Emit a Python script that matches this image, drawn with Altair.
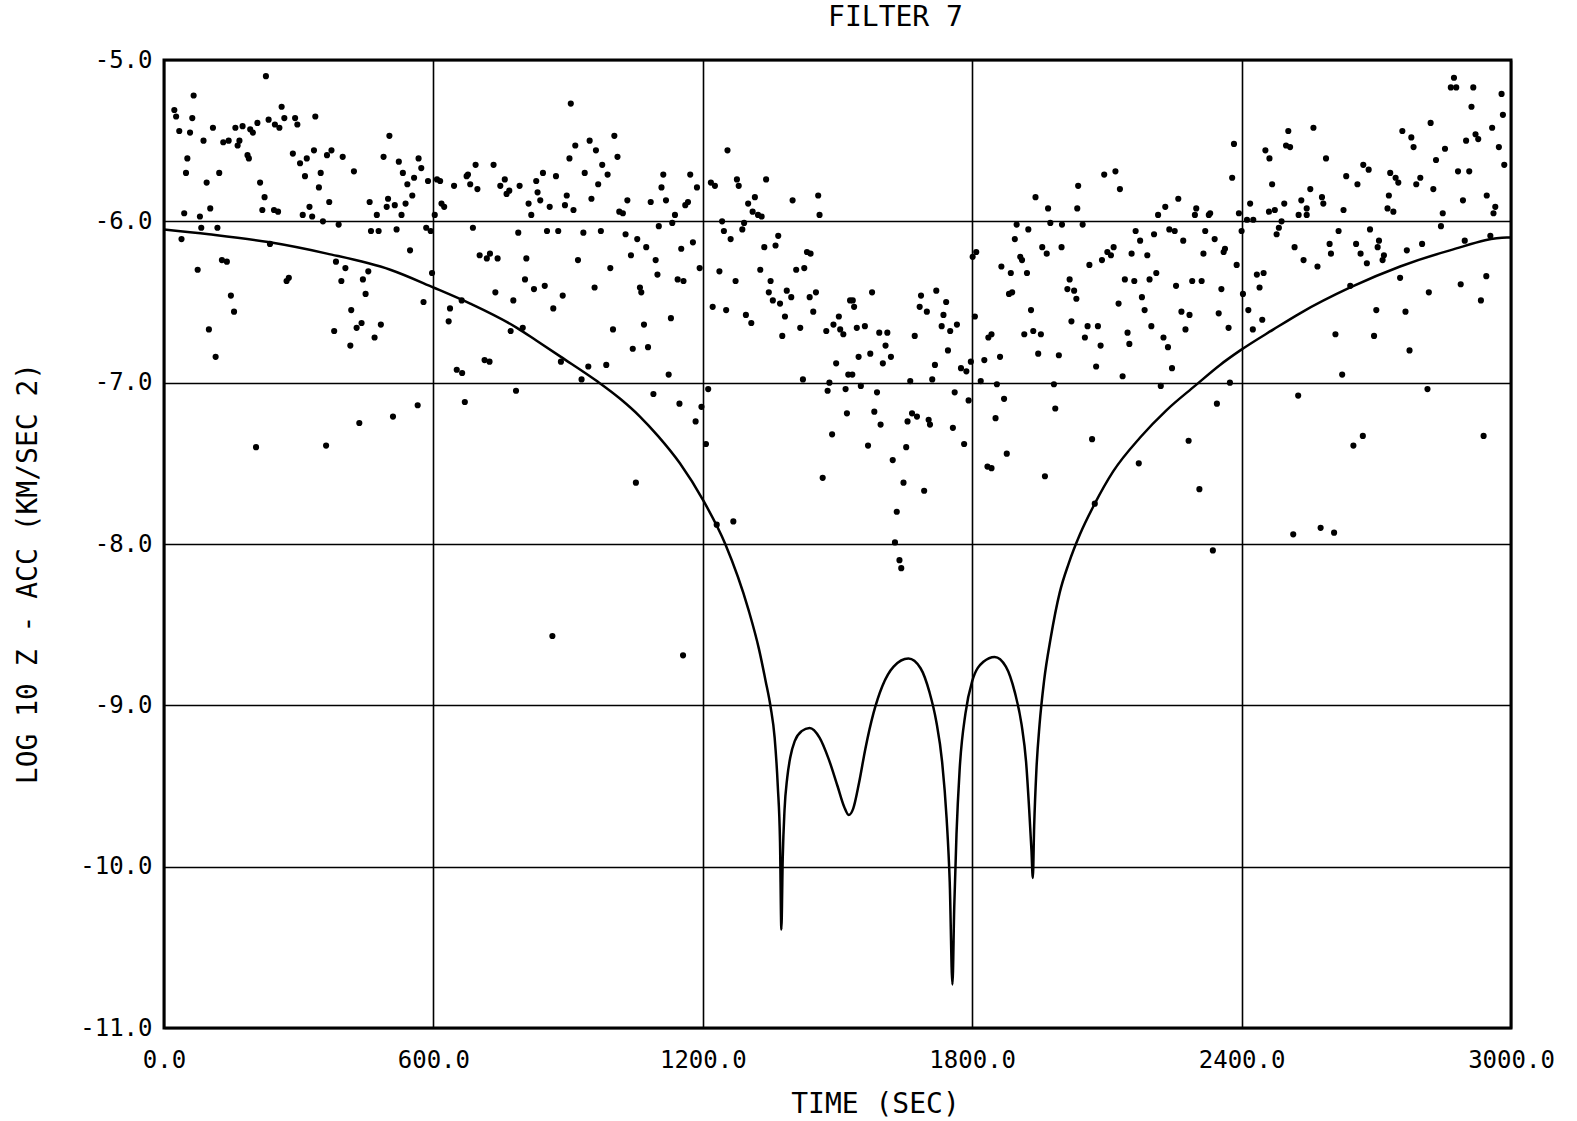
import altair as alt
import pandas as pd

# ---- scatter data: time (s), log10 z-acceleration ----
dot_t = [
227,66,23,27,63,262,337,292,297,268,233,247,257,208,34,58,109,159,175,192,198,88,132,144,168,164,502,287,334,373,363,398,186,189,318,303,489,52,49,123,314,349,423,95,214,345,224,103,45,80,219,245,254,324,309,330,368,458,474,496,499,354,389,83,119,39,461,478,236,129,140,75,383,404,455,278,273,395,443,449,149,156,417,440,429,483,100,379,469,
906,948,916,962,1003,1010,903,976,937,988,967,844,829,873,832,838,812,818,859,893,897,912,952,1014,523,567,532,573,557,542,588,608,615,553,514,538,529,618,624,603,674,677,694,734,682,698,646,759,749,769,763,792,518,584,594,688,789,853,878,934,973,548,703,726,719,743,807,922,994,597,804,824,848,738,778,888,959,578,637,867,634,772,799,1000,663,
1255,1112,1172,1108,1187,1032,1084,1118,1161,1167,1022,1138,1132,1102,1218,1227,1276,1280,1341,1301,1316,1311,1323,1331,1400,1457,1460,1243,1247,1262,1292,1288,1368,1362,1337,1432,1440,1028,1054,1074,1040,1095,1152,1178,1099,1193,1237,1144,1157,1273,1328,1351,1408,1426,1060,1063,1347,1356,1372,1387,1397,1438,1452,1446,1528,1222,1252,1296,1308,1383,1503,1491,1475,1506,1513,1417,1377,1069,1129,
1941,1969,2036,2034,1899,1925,1974,2000,1895,1956,1966,1999,1907,1911,1809,1801,1865,1886,1922,2017,2012,2027,2032,1889,1882,1931,2021,1806,1843,1916,1936,1953,1534,1537,1577,1686,1720,1742,1683,1699,1736,1732,1751,1766,1543,1561,1593,1611,1672,
2094,2119,2129,2259,2230,2214,2299,2296,2327,2330,2383,2379,2394,2046,2164,2205,2239,2251,2319,2340,2270,2174,2115,2101,2109,2089,2061,2155,2190,2315,2363,2360,2389,2210,2195,2140,2161,2254,2290,2311,2355,2178,2126,2184,2266,2284,2349,2057,2080,2146,2199,2275,2371,2226,2051,2400,2403,2415,2425,2446,2434,2449,2440,2518,2538,2453,2462,2504,2499,2508,2468,2419,2461,2474,2495,2533,2527,2545,2489,2483,2478,2412,2426,
2873,2866,2878,2916,2979,2912,2982,2560,2758,2821,2958,2778,2783,2900,2921,2927,2973,2853,2588,2833,2671,2683,2882,2907,2985,2633,2658,2731,2743,2749,2798,2789,2827,2553,2579,2582,2545,2627,2728,2725,2738,2893,2946,2965,2961,2848,2616,2686,2706,2703,2596,2599,2655,2665,2679,2717,2714,2768,2802,2844,2897,2954,2569,2753,2817,2888,2945,2933,2700,2765,2609,2695,2642,
115,415,435,205,361,
510,565,652,664,714,725,670,784,884,945,985,930,
1044,1078,1124,1090,1148,1197,1212,1184,1207,1051,1231,1268,1423,1497,1482,1478,1518,1524,1521,1488,1467,
1836,1607,1547,1573,1619,1601,1746,1717,1775,1787,1797,1827,1862,1947,1993,1533,1662,1711,1819,1855,1982,1552,1588,1761,1792,1871,1985,1582,1596,1666,1677,1656,1703,1706,1757,1852,1568,1653,1623,1782,1877,1834,1843,1962,1647,1693,1632,1628,1638,1642,
2086,2150,2236,2076,2135,2245,2220,2374,2345,2526,2067,2282,2171,2306,2073,2515,2336,
2774,2624,2814,2670,2649,2939,2576,2606,
1156,865,
]
dot_v = [
-5.10,-5.22,-5.31,-5.35,-5.36,-5.29,-5.35,-5.36,-5.40,-5.36,-5.37,-5.40,-5.42,-5.39,-5.44,-5.45,-5.42,-5.42,-5.41,-5.43,-5.45,-5.50,-5.51,-5.50,-5.50,-5.53,-5.47,-5.58,-5.56,-5.56,-5.59,-5.60,-5.59,-5.61,-5.61,-5.64,-5.60,-5.61,-5.70,-5.70,-5.72,-5.70,-5.69,-5.76,-5.76,-5.79,-5.85,-5.92,-5.95,-5.97,-5.93,-5.93,-5.94,-5.91,-5.96,-5.97,-5.88,-5.88,-5.96,-5.91,-5.86,-6.00,-6.02,-6.04,-6.04,-6.11,-6.06,-6.06,-6.14,-6.24,-6.25,-6.30,-6.25,-6.29,-6.31,-6.35,-6.37,-6.37,-6.36,-6.45,-6.46,-6.56,-6.55,-6.63,-6.66,-6.64,-6.67,-6.68,-6.72,
-5.27,-5.50,-5.53,-5.56,-5.47,-5.60,-5.61,-5.65,-5.70,-5.71,-5.77,-5.70,-5.75,-5.72,-5.82,-5.87,-5.89,-5.96,-5.91,-5.90,-5.84,-5.93,-5.86,-5.94,-5.63,-5.61,-5.70,-5.67,-5.73,-5.77,-5.75,-5.74,-5.75,-5.84,-5.90,-5.89,-5.96,-5.89,-5.91,-5.96,-5.72,-5.71,-5.65,-5.65,-5.77,-5.80,-5.78,-5.74,-5.78,-5.81,-5.83,-5.78,-6.05,-6.04,-6.06,-6.04,-6.07,-6.06,-6.06,-6.07,-6.06,-6.18,-6.21,-6.20,-6.23,-6.23,-6.23,-6.24,-6.29,-6.32,-6.36,-6.42,-6.40,-6.44,-6.49,-6.46,-6.41,-6.50,-6.54,-6.54,-6.62,-6.68,-6.66,-6.67,-6.49,
-5.56,-5.71,-5.71,-5.79,-5.79,-5.87,-5.88,-5.87,-5.90,-5.88,-5.95,-5.96,-6.01,-6.03,-5.76,-5.78,-5.74,-5.78,-5.74,-5.89,-5.85,-5.94,-5.96,-5.97,-5.87,-5.84,-5.96,-6.00,-6.06,-6.11,-6.01,-6.05,-6.09,-6.15,-6.16,-6.19,-6.20,-6.08,-6.11,-6.16,-6.21,-6.24,-6.17,-6.13,-6.33,-6.29,-6.31,-6.36,-6.37,-6.37,-6.30,-6.37,-6.30,-6.29,-6.41,-6.44,-6.44,-6.49,-6.51,-6.43,-6.47,-6.47,-6.44,-6.56,-6.49,-6.53,-6.55,-6.58,-6.63,-6.59,-6.59,-6.64,-6.68,-6.67,-6.70,-6.66,-6.71,-6.64,-6.60,
-5.85,-5.92,-5.78,-5.92,-6.02,-6.05,-6.01,-6.02,-6.11,-6.16,-6.20,-6.16,-6.22,-6.24,-6.19,-6.22,-6.28,-6.32,-6.32,-6.36,-6.42,-6.43,-6.48,-6.44,-6.45,-6.55,-6.62,-6.59,-6.70,-6.70,-6.68,-6.70,-6.49,-6.53,-6.44,-6.46,-6.43,-6.50,-6.53,-6.56,-6.58,-6.65,-6.68,-6.64,-6.66,-6.65,-6.69,-6.69,-6.71,
-5.71,-5.69,-5.80,-5.86,-5.91,-5.96,-5.92,-5.96,-5.96,-5.95,-5.52,-5.73,-5.95,-6.02,-6.06,-6.08,-6.05,-6.06,-6.06,-6.11,-6.12,-6.12,-6.16,-6.19,-6.21,-6.24,-6.27,-6.20,-6.21,-6.20,-6.17,-6.19,-6.27,-6.32,-6.36,-6.36,-6.37,-6.40,-6.37,-6.37,-6.42,-6.47,-6.51,-6.55,-6.56,-6.58,-6.57,-6.65,-6.65,-6.69,-6.65,-6.67,-6.66,-6.72,-6.72,-6.06,-6.45,-6.55,-6.67,-6.61,-6.33,-6.32,-6.41,-6.16,-6.24,-5.56,-5.61,-5.44,-5.53,-5.54,-5.77,-5.89,-5.94,-5.93,-5.89,-5.87,-5.96,-5.92,-6.00,-6.04,-6.08,-5.99,-5.99,
-5.11,-5.17,-5.17,-5.17,-5.21,-5.29,-5.34,-5.42,-5.44,-5.39,-5.42,-5.48,-5.54,-5.50,-5.46,-5.49,-5.54,-5.55,-5.61,-5.62,-5.65,-5.68,-5.69,-5.69,-5.65,-5.72,-5.77,-5.70,-5.73,-5.76,-5.73,-5.77,-5.80,-5.80,-5.85,-5.89,-5.96,-5.93,-5.84,-5.92,-5.94,-5.87,-5.84,-5.91,-5.95,-5.95,-6.06,-6.05,-6.12,-6.16,-6.14,-6.20,-6.14,-6.20,-6.26,-6.21,-6.24,-6.18,-6.14,-6.03,-6.12,-6.09,-6.28,-6.35,-6.44,-6.39,-6.34,-6.49,-6.55,-6.56,-6.70,-6.71,-6.40,
-6.84,-6.77,-7.25,-7.40,-7.39,
-7.21,-7.14,-6.92,-6.94,-6.86,-6.87,-7.12,-7.05,-6.87,-6.90,-6.89,-6.98,
-6.79,-6.78,-6.95,-7.07,-7.13,-7.15,-7.04,-7.24,-7.38,-7.62,-7.88,-7.86,-6.98,-6.88,-7.00,-7.05,-7.04,-6.95,-7.19,-7.32,-7.59,
-6.72,-6.77,-6.84,-6.82,-6.84,-6.88,-6.80,-6.89,-6.91,-6.93,-6.87,-6.86,-6.84,-6.82,-6.83,-6.95,-6.99,-6.98,-6.99,-7.01,-7.01,-7.02,-7.06,-7.06,-7.11,-7.10,-7.16,-7.18,-7.26,-7.19,-7.21,-7.24,-7.23,-7.26,-7.28,-7.22,-7.39,-7.40,-7.48,-7.38,-7.44,-7.52,-7.53,-7.58,-7.62,-7.67,-7.80,-7.99,-8.10,-8.15,
-6.77,-6.76,-6.78,-6.90,-6.96,-6.91,-7.02,-7.00,-7.13,-7.08,-7.35,-7.36,-7.50,-7.66,-7.75,-7.94,-8.04,
-6.80,-6.95,-7.04,-7.33,-7.39,-7.33,-7.90,-7.93,
-8.69,-8.57,
]

# ---- smooth filter curve ----
curve_t = [0,100,236,363,504,600,682,786,830,884,964,1016,1060,1100,1149,1201,1250,1302,1325,1340,1351,1360,1367,1372,1375,
           1378,1382,1388,1395,1405,1420,1438,1460,1480,1500,1515,1525,1535,1548,1562,1580,1600,1625,1658,1685,1705,1720,
           1733,1743,1750,1756,1760,1765,1772,1785,1800,1825,1850,1875,1895,1910,1920,1927,1932,1935,1938,1943,1950,1960,
           1975,1995,2015,2040,2073,2114,2174,2233,2296,2352,2397,2471,2530,2642,2753,2864,2991,3000]
curve_v = [-6.05,-6.08,-6.13,-6.20,-6.30,-6.41,-6.51,-6.66,-6.74,-6.84,-6.99,-7.10,-7.21,-7.33,-7.50,-7.73,-8.00,-8.41,-8.65,-8.85,-9.01,-9.20,-9.50,-9.85,-10.39,
           -9.95,-9.65,-9.45,-9.32,-9.22,-9.16,-9.14,-9.20,-9.33,-9.50,-9.63,-9.68,-9.64,-9.48,-9.27,-9.05,-8.88,-8.76,-8.71,-8.77,-8.92,-9.10,
           -9.35,-9.70,-10.10,-10.73,-10.25,-9.80,-9.40,-9.05,-8.85,-8.73,-8.70,-8.76,-8.92,-9.12,-9.35,-9.65,-9.90,-10.07,-9.75,-9.40,-9.12,-8.85,
           -8.58,-8.30,-8.12,-7.94,-7.75,-7.55,-7.34,-7.17,-7.02,-6.89,-6.80,-6.67,-6.57,-6.41,-6.28,-6.18,-6.10,-6.10]

x_ticks = [0, 600, 1200, 1800, 2400, 3000]
y_ticks = [-5, -6, -7, -8, -9, -10, -11]

dots = pd.DataFrame({"t": dot_t, "v": dot_v})
curve = pd.DataFrame({"t": curve_t, "v": curve_v})

FONT = "DejaVu Sans Mono"
label_expr = "(datum.value < 0 ? '-' : '') + format(abs(datum.value), '.1f')"

xs = alt.Scale(domain=[0, 3000], nice=False, zero=False)
ys = alt.Scale(domain=[-11, -5], nice=False, zero=False)

common = dict(grid=True, gridColor="black", gridWidth=1.6, gridOpacity=1, ticks=False, domain=False,
              labelFontSize=24, labelFont=FONT, labelColor="black", labelFlush=False,
              titleFont=FONT, titleFontSize=28, titleFontWeight="normal", titleColor="black",
              titleAlign="center", titleBaseline="middle")
xax = alt.Axis(values=x_ticks, labelExpr=label_expr, title="TIME (SEC)", labelPadding=20,
               titleX=711, titleY=76, **common)
yax = alt.Axis(values=y_ticks, labelExpr=label_expr, title="LOG 10  Z - ACC (KM/SEC 2)", labelPadding=12,
               titleX=-136, titleY=513, titleAngle=270, **common)

pts = alt.Chart(dots).mark_circle(color="black", opacity=1, size=38).encode(
    x=alt.X("t:Q", scale=xs, axis=xax),
    y=alt.Y("v:Q", scale=ys, axis=yax),
)
line = alt.Chart(curve).mark_line(color="black", strokeWidth=2.5, interpolate="monotone").encode(
    x=alt.X("t:Q", scale=xs),
    y=alt.Y("v:Q", scale=ys),
)

chart = alt.layer(pts, line).properties(
    width=1347, height=968,
    title=alt.TitleParams("FILTER 7", font=FONT, fontSize=28, fontWeight="normal", color="black",
                          anchor="middle", dx=58, offset=16),
    padding={"left": 164, "top": 60, "right": 66, "bottom": 93},
    autosize="none",
    background="white",
).configure_view(stroke="black", strokeWidth=3)

chart.save("out.html", embed_options={"renderer": "svg", "actions": False})
